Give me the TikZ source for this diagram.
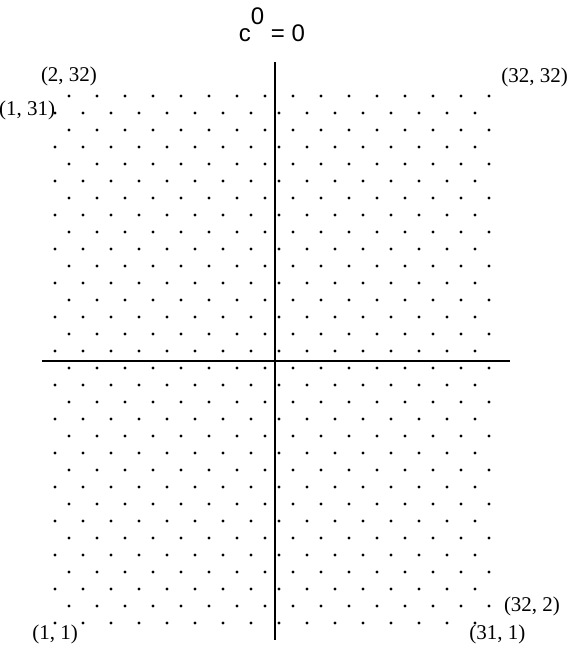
\documentclass[tikz,border=0pt]{standalone}
\usepackage{fontspec}
\setmainfont{Liberation Serif}
\setsansfont{Liberation Sans}
\usetikzlibrary{positioning}
\tikzset{
  dot/.style={circle, fill=black, inner sep=0pt, minimum size=3.2pt},
  lbl/.style={inner sep=1pt, font=\fontsize{21}{23}\selectfont},
  axis/.style={draw=black, line width=1.4pt},
  title/.style={font=\sffamily\fontsize{24}{26}\selectfont, inner sep=0pt}
}
\begin{document}
\begin{tikzpicture}[x=1pt, y=-1pt]
  \useasboundingbox (0,0) rectangle (578,654);
  % lattice points (i,j) with i+j even
  \foreach \j in {1,...,32} {
    \foreach \k in {1,...,16} {
      \pgfmathtruncatemacro{\i}{2*\k-mod(\j,2)}
      \node[dot] (d-\i-\j) at ({55+(\i-1)*14}, {623-(\j-1)*17}) {};
    }
  }

  % axes
  \coordinate (xl) at (42,361);
  \coordinate (xr) at (510,361);
  \coordinate (yt) at (275,62);
  \coordinate (yb) at (275,640);
  \draw[axis] (xl) -- (xr);
  \draw[axis] (yt) -- (yb);

  % title
  \node[title, anchor=base] (ttl) at (272,41) {c\raisebox{17pt}{0} = 0};

  % corner labels
  \node[lbl, above=7pt of d-2-32] (l-2-32) {(2, 32)};
  \node[lbl, above right=7pt and 10pt of d-32-32] (l-32-32) {(32, 32)};
  \node[lbl, left=-3pt of d-1-31, yshift=3pt] (l-1-31) {(1, 31)};
  \node[lbl, below=-1pt of d-1-1] (l-1-1) {(1, 1)};
  \node[lbl, right=12pt of d-32-2] (l-32-2) {(32, 2)};
  \node[lbl, below right=-1pt and -8pt of d-31-1] (l-31-1) {(31, 1)};
\end{tikzpicture}
\end{document}
